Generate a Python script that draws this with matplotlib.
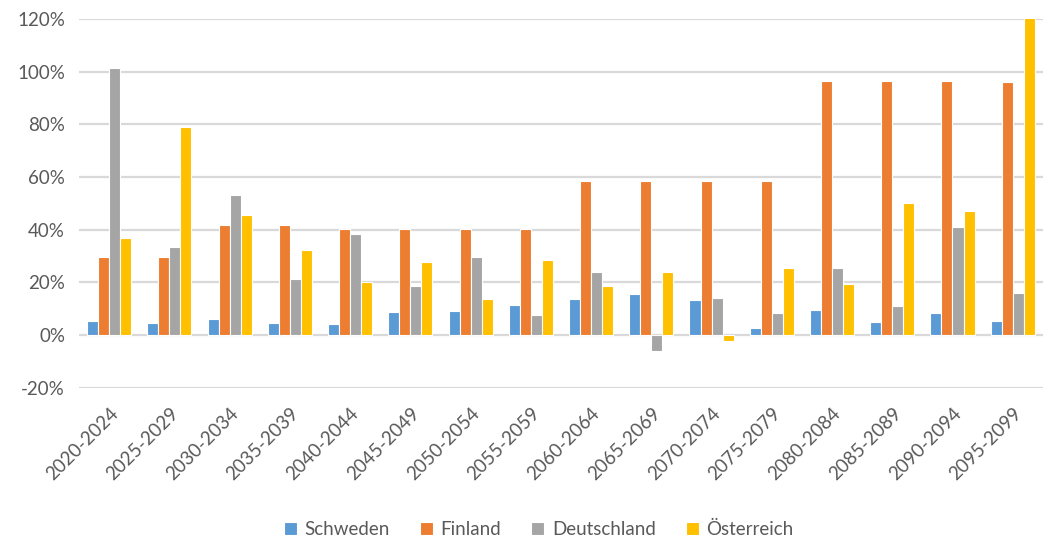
import matplotlib.pyplot as plt
import numpy as np
from matplotlib.ticker import FuncFormatter

periods = ['2020-2024', '2025-2029', '2030-2034', '2035-2039', '2040-2044', '2045-2049',
           '2050-2054', '2055-2059', '2060-2064', '2065-2069', '2070-2074', '2075-2079',
           '2080-2084', '2085-2089', '2090-2094', '2095-2099']

schweden = [5.3, 4.4, 6.0, 4.4, 4.1, 8.6, 9.1, 11.4, 13.7, 15.4, 13.2, 2.5, 9.5, 4.8, 8.2, 5.4]
finland = [29.5, 29.5, 41.9, 41.9, 40.1, 40.1, 40.1, 40.1, 58.5, 58.5, 58.5, 58.5, 96.5, 96.5, 96.5, 96.0]
deutschland = [101.5, 33.3, 53.0, 21.1, 38.2, 18.5, 29.5, 7.7, 23.8, -6.1, 14.2, 8.2, 25.3, 11.0, 40.9, 16.1]
oesterreich = [36.8, 79.0, 45.6, 32.3, 20.1, 27.6, 13.7, 28.5, 18.7, 23.8, -2.3, 25.3, 19.4, 50.2, 47.0, 125.0]

series = [('Schweden', schweden, '#5B9BD5'),
          ('Finland', finland, '#ED7D31'),
          ('Deutschland', deutschland, '#A5A5A5'),
          ('Österreich', oesterreich, '#FFC000')]

plt.rcParams['font.family'] = ['Lato', 'DejaVu Sans']

fig = plt.figure(figsize=(10.46, 5.41), dpi=100)
ax = fig.add_axes([0.0755, 0.2834, 0.9215, 0.6816])

x = np.arange(len(periods))
w = 0.183
for i, (name, vals, col) in enumerate(series):
    ax.bar(x + (i - 1.5) * w, np.array(vals) / 100, width=w, color=col,
           edgecolor='white', linewidth=0.8, label=name, zorder=3)

ax.set_xlim(-0.5, len(periods) - 0.5)
ax.set_ylim(-0.2, 1.2)
ax.set_yticks(np.arange(-0.2, 1.21, 0.2))
ax.yaxis.set_major_formatter(FuncFormatter(lambda v, p: f'{v * 100:.0f}%'))
ax.grid(axis='y', color='#D9D9D9', linewidth=1.6, zorder=0)
for s in ax.spines.values():
    s.set_visible(False)
ax.tick_params(axis='both', length=0, colors='#595959', labelsize=13.5)
ax.tick_params(axis='y', pad=10)
ax.set_xticks(x)
ax.set_xticklabels(periods, rotation=45, ha='right', rotation_mode='anchor')
ax.tick_params(axis='x', pad=12)

leg = fig.legend(loc='lower center', bbox_to_anchor=(0.515, -0.025), ncol=4, frameon=False,
                 fontsize=13.5, handlelength=0.7, handleheight=0.7, handletextpad=0.4,
                 columnspacing=1.6)
for t in leg.get_texts():
    t.set_color('#595959')

fig.savefig('out.png', dpi=100)
